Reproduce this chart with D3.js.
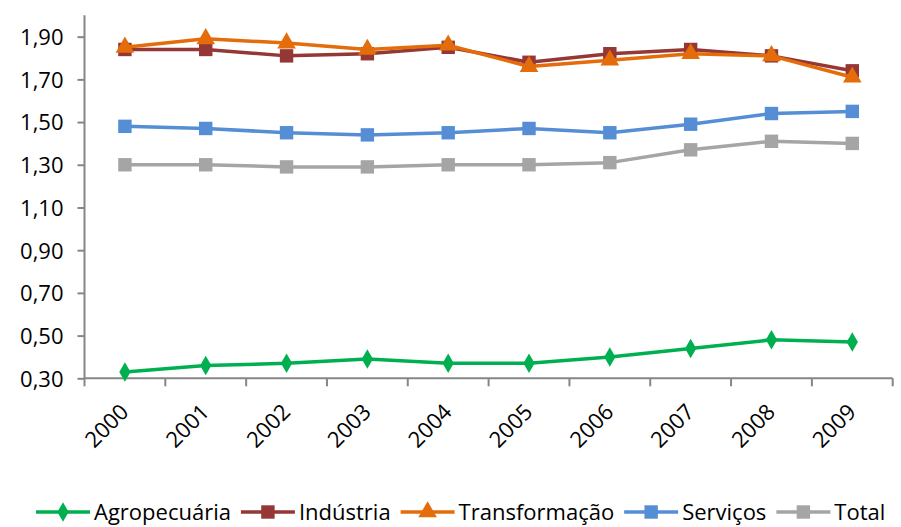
<!DOCTYPE html>
<html>
<head>
<meta charset="utf-8">
<script src="https://cdn.jsdelivr.net/npm/d3@7"></script>
<style>
  html, body { margin: 0; padding: 0; background: #fff; }
  svg { display: block; }
  text { font-family: "Open Sans", "Noto Sans", sans-serif; fill: #000; }
</style>
</head>
<body>
<svg id="chart" width="901" height="527"></svg>
<script>
// Categories (years) and series values
const years = ["2000","2001","2002","2003","2004","2005","2006","2007","2008","2009"];
const agropecuaria  = [0.33, 0.36, 0.37, 0.39, 0.37, 0.37, 0.40, 0.44, 0.48, 0.47];
const industria     = [1.84, 1.84, 1.81, 1.82, 1.85, 1.78, 1.82, 1.84, 1.81, 1.74];
const transformacao = [1.85, 1.89, 1.87, 1.84, 1.86, 1.76, 1.79, 1.82, 1.81, 1.71];
const servicos      = [1.48, 1.47, 1.45, 1.44, 1.45, 1.47, 1.45, 1.49, 1.54, 1.55];
const total         = [1.30, 1.30, 1.29, 1.29, 1.30, 1.30, 1.31, 1.37, 1.41, 1.40];
const yTicks = [0.30, 0.50, 0.70, 0.90, 1.10, 1.30, 1.50, 1.70, 1.90];
const yDomain = [0.30, 2.00];

const series = [
  { name: "Agropecuária",  values: agropecuaria,  color: "#00B050", marker: "diamond" },
  { name: "Indústria",     values: industria,     color: "#953735", marker: "square" },
  { name: "Transformação", values: transformacao, color: "#E46C0A", marker: "triangle" },
  { name: "Serviços",      values: servicos,      color: "#558ED5", marker: "square" },
  { name: "Total",         values: total,         color: "#A5A5A5", marker: "square" }
];

const svg = d3.select("#chart");
const plot = { left: 84.5, right: 892.7, top: 15.3, bottom: 378.3 };
const axisColor = "#868686";

const x = d3.scaleBand().domain(years).range([plot.left, plot.right]).padding(0);
const y = d3.scaleLinear().domain(yDomain).range([plot.bottom, plot.top]);
const cx = d => x(d) + x.bandwidth() / 2;
const fmt = v => d3.format(".2f")(v).replace(".", ",");

// Y axis
const yAxis = d3.axisLeft(y).tickValues(yTicks).tickSize(7).tickPadding(14).tickFormat(fmt);
const gy = svg.append("g").attr("transform", `translate(${plot.left},0)`).call(yAxis);
gy.select(".domain").attr("stroke", axisColor).attr("stroke-width", 2)
  .attr("d", `M0,${plot.top}V${plot.bottom}`);
gy.selectAll(".tick line").attr("stroke", axisColor).attr("stroke-width", 2);
gy.selectAll(".tick text").attr("font-size", 22).attr("font-family", "Open Sans")
  .attr("fill", "#000").attr("dy", "0.36em");

// X axis: line with tick marks at category boundaries
const gx = svg.append("g").attr("transform", `translate(0,${plot.bottom})`);
gx.append("line").attr("x1", plot.left).attr("x2", plot.right)
  .attr("stroke", axisColor).attr("stroke-width", 2);
const bounds = years.map(d => x(d)).concat([plot.right]);
gx.selectAll("line.tk").data(bounds).join("line").attr("class", "tk")
  .attr("x1", d => d).attr("x2", d => d).attr("y1", 0).attr("y2", 8)
  .attr("stroke", axisColor).attr("stroke-width", 2);
gx.selectAll("text").data(years).join("text")
  .attr("transform", d => `translate(${cx(d) + 5},35) rotate(-45)`)
  .attr("text-anchor", "end")
  .attr("font-size", 22)
  .text(d => d);

// Marker shapes
const symbolOf = {
  diamond:  d3.symbol().type(d3.symbolDiamond).size(110),
  square:   d3.symbol().type(d3.symbolSquare).size(180),
  triangle: d3.symbol().type(d3.symbolTriangle).size(150)
};

const line = d3.line().x((v, i) => cx(years[i])).y(v => y(v));

series.forEach(s => {
  const g = svg.append("g");
  g.append("path").attr("d", line(s.values)).attr("fill", "none")
    .attr("stroke", s.color).attr("stroke-width", 3.5).attr("stroke-linejoin", "round");
  g.selectAll("path.m").data(s.values).join("path").attr("class", "m")
    .attr("d", symbolOf[s.marker])
    .attr("transform", (v, i) => `translate(${cx(years[i])},${y(v)})`)
    .attr("fill", s.color);
});

// Legend, laid out left to right
const legend = svg.append("g");
let lx = 36;
const ly = 512;
series.forEach(s => {
  const g = legend.append("g");
  g.append("line").attr("x1", lx).attr("x2", lx + 54).attr("y1", ly).attr("y2", ly)
    .attr("stroke", s.color).attr("stroke-width", 3.5);
  g.append("path").attr("d", symbolOf[s.marker])
    .attr("transform", `translate(${lx + 27},${ly})`).attr("fill", s.color);
  const t = g.append("text").attr("x", lx + 58).attr("y", ly + 8)
    .attr("font-size", 22).text(s.name);
  lx = lx + 58 + t.node().getComputedTextLength() + 10;
});
</script>
</body>
</html>
